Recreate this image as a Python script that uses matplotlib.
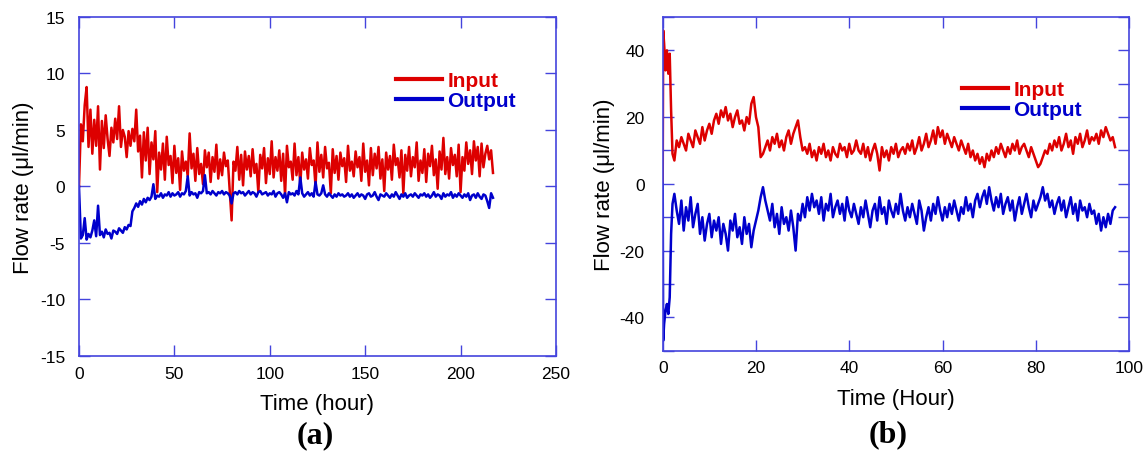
import matplotlib
matplotlib.use("Agg")
import matplotlib.pyplot as plt
import numpy as np

plt.rcParams['font.family'] = ['Liberation Sans', 'DejaVu Sans']
plt.rcParams['axes.unicode_minus'] = False

# ---- panel (a): hourly readings, 0..217 h ----
time_a = np.arange(0, 218)
input_a = [
    0.0, 5.5, 4.0, 7.2, 8.8, 3.5, 6.8, 2.9, 5.9, 3.6, 7.1, 1.5, 5.8, 3.4, 6.3, 4.2, 2.7, 5.2, 3.9, 6.0,
    4.2, 7.1, 3.5, 5.0, 4.4, 2.6, 4.9, 3.6, 5.1, 4.0, 6.8, 3.1, 4.5, 0.8, 4.8, 2.3, 5.2, 1.1, 3.9, 2.4,
    4.9, -0.5, 3.0, 1.5, 3.8, 0.6, 4.4, 1.9, 2.7, 0.3, 3.6, 1.2, 2.5, -0.3, 3.1, 1.4, 2.2, 0.9, 4.7, 1.6,
    2.9, 0.5, 3.4, 1.1, 2.0, 0.2, 3.2, 1.7, 3.0, 0.4, 2.6, 1.3, 3.7, 0.7, 2.4, 1.0, 3.0, 1.8, 2.3, -0.3,
    -3.0, 2.2, 1.4, 3.5, 0.6, 2.8, 0.1, 3.1, 1.5, 2.7, 0.9, 3.3, 1.2, 2.0, -0.5, 2.8, 1.6, 3.4, 0.3, 2.5,
    1.1, 4.0, 0.8, 2.6, 1.4, 3.2, 0.5, 2.9, -0.8, 3.6, 1.7, 2.2, 0.6, 3.8, 1.0, 2.6, 0.2, 3.0, 1.5, 2.4,
    0.7, 3.4, 1.9, 2.3, 0.0, 3.9, 1.3, 2.8, 0.8, 3.5, 1.6, 2.1, -0.6, 3.3, 1.2, 2.7, 0.6, 3.0, 1.8, 2.5,
    0.4, 3.6, 1.4, 2.2, 0.9, 3.1, 1.7, 2.6, 0.5, 3.8, 1.3, 2.3, 0.1, 3.4, 1.0, 2.9, 1.6, 3.5, 0.7, 2.4,
    -0.4, 3.0, 1.5, 2.7, 0.6, 3.7, 1.9, 2.5, 0.8, 3.2, -0.6, 2.8, 1.4, 3.5, 0.9, 2.6, 1.7, 3.9, 0.5, 2.3,
    1.2, 3.3, 0.4, 2.9, 1.8, 3.6, 1.0, 2.4, -0.2, 3.1, 1.5, 4.3, 1.1, 2.6, 0.7, 3.4, 1.9, 2.8, 0.9, 3.7,
    -0.5, 2.6, 1.4, 3.9, 2.0, 3.2, 1.1, 4.0, 2.3, 3.5, 0.9, 3.8, 1.7, 2.9, 3.6, 2.4, 3.2, 1.2,
]
output_a = [
    0.0, -4.6, -4.3, -2.8, -4.7, -4.2, -4.5, -3.9, -3.0, -4.4, -1.7, -4.3, -4.0, -4.5, -3.8, -4.2, -4.1, -4.6, -3.9, -4.0,
    -4.2, -3.7, -3.9, -4.1, -3.6, -3.8, -3.4, -3.5, -2.2, -1.9, -1.5, -1.8, -1.3, -1.6, -1.1, -1.4, -1.0, -1.2, -0.9, 0.2,
    -1.1, -0.8, -0.9, -0.6, -1.0, -0.7, -0.8, -0.5, -0.9, -0.6, -0.8, -0.7, -0.5, -0.9, -0.6, -0.7, -0.4, 0.9, -0.8, -0.5,
    -0.7, -0.6, -1.0, -0.5, -0.6, -0.4, 1.0, -0.6, -0.5, -0.7, -0.4, -0.6, -0.8, -0.5, -0.6, -0.4, -0.7, -0.5, -0.6, -0.8,
    -1.5, -0.6, -0.5, -0.7, -0.4, -0.6, -0.5, -0.8, -0.6, -0.4, -0.7, -0.5, -0.6, -0.9, -0.5, -0.4, -0.7, -0.6, -0.5, -0.8,
    -0.6, -0.7, -0.4, -0.9, -0.6, -0.5, -0.7, -1.0, -0.6, -1.4, -0.5, -0.7, -0.6, -0.8, -0.4, -0.7, 0.8, -0.6, -0.9, -0.7,
    -0.5, -0.8, -0.6, -0.9, 0.4, -0.7, -0.8, -0.6, 0.1, -0.7, -0.9, -0.6, -0.8, -1.0, -0.7, -0.9, -0.6, -0.8, -0.7, -0.9,
    -0.8, -0.6, -0.9, -0.7, -1.0, -0.8, -0.6, -0.9, -0.7, -0.8, -1.1, -0.7, -0.6, -0.9, -0.8, -0.5, -0.9, -1.2, -0.7, -0.8,
    -0.9, -0.6, -0.8, -1.0, -0.7, -0.9, -0.5, -0.8, -1.1, -0.7, -0.9, -0.6, -1.0, -0.8, -0.7, -0.9, -0.6, -0.8, -1.0, -0.7,
    -0.8, -0.6, -0.9, -0.7, -1.0, -0.8, -0.5, -0.9, -0.7, -0.8, -1.1, -0.6, -0.9, -0.7, -0.8, -0.5, -1.0, -0.7, -0.9, -0.6,
    -0.8, -1.0, -0.7, -0.9, -0.6, -1.2, -0.8, -0.7, -1.0, -0.6, -0.9, -1.1, -0.7, -0.8, -1.3, -1.9, -0.6, -1.0,
]

# ---- panel (b): fine start-up samples, then half-hourly to 97 h ----
time_b = np.concatenate([[0, 0.1, 0.3, 0.6, 0.9, 1.2, 1.5, 1.8, 2.1], np.arange(2.5, 97.01, 0.5)])
input_b = [
    0, 46, 42, 34, 40, 33, 39, 22, 9,
    7, 13, 11, 14, 12, 10, 15, 13, 11, 16, 14, 12, 17, 13, 16, 18, 15, 19, 21, 18,
    22, 20, 23, 19, 21, 17, 20, 22, 18, 19, 16, 20, 18, 24, 26, 20, 17, 8, 9, 11,
    13, 10, 14, 12, 15, 11, 13, 10, 14, 16, 12, 15, 17, 19, 14, 10, 11, 9, 12, 8,
    10, 7, 11, 9, 12, 8, 10, 7, 11, 9, 8, 12, 10, 11, 8, 12, 9, 10, 13, 10,
    9, 12, 8, 11, 7, 10, 12, 9, 4, 11, 8, 10, 7, 11, 9, 12, 8, 10, 11, 9,
    12, 10, 13, 9, 11, 14, 10, 12, 15, 11, 13, 16, 12, 17, 14, 16, 12, 15, 13, 11,
    14, 12, 10, 13, 11, 9, 12, 8, 10, 7, 9, 6, 8, 5, 9, 7, 10, 8, 11, 9,
    12, 10, 8, 11, 9, 12, 10, 13, 9, 11, 12, 10, 8, 11, 9, 7, 5, 6, 8, 10,
    9, 12, 10, 13, 11, 14, 10, 12, 15, 11, 13, 9, 14, 12, 15, 11, 13, 16, 12, 14,
    13, 15, 12, 16, 14, 17, 15, 13, 14, 11,
]
output_b = [
    0, -47, -42, -38, -36, -39, -34, -15, -6,
    -3, -8, -12, -5, -14, -7, -11, -4, -13, -9, -6, -15, -10, -17, -12, -9, -16, -11, -14, -10,
    -18, -12, -15, -20, -11, -14, -9, -16, -13, -18, -10, -15, -12, -19, -14, -11, -8, -4, -1, -5,
    -8, -11, -6, -13, -9, -15, -7, -12, -10, -14, -8, -13, -20, -9, -11, -6, -10, -4, -8, -3,
    -7, -5, -9, -4, -11, -6, -8, -3, -10, -7, -5, -9, -6, -11, -4, -8, -10, -6, -9, -12,
    -7, -10, -5, -9, -13, -8, -6, -11, -4, -9, -7, -12, -5, -8, -10, -6, -9, -3, -8, -11,
    -7, -10, -6, -9, -12, -5, -8, -14, -10, -7, -11, -6, -9, -4, -8, -11, -7, -10, -6, -9,
    -5, -8, -11, -7, -9, -4, -8, -6, -10, -5, -3, -7, -4, -2, -6, -1, -5, -8, -4, -7,
    -3, -9, -6, -4, -8, -5, -11, -7, -4, -9, -6, -3, -7, -10, -5, -8, -6, -4, -1, -5,
    -3, -7, -5, -9, -6, -4, -8, -5, -10, -7, -4, -9, -6, -11, -5, -8, -7, -10, -6, -9,
    -8, -12, -9, -14, -10, -13, -9, -12, -8, -7,
]

RED = "#dd0000"
BLUE = "#0000cc"
FRAME = "#4444dd"

fig = plt.figure(figsize=(11.43, 4.52), dpi=100)
ax1 = fig.add_axes([0.0691, 0.2102, 0.4173, 0.750])
ax2 = fig.add_axes([0.5798, 0.2219, 0.4080, 0.7383])


def style(ax):
    for s in ax.spines.values():
        s.set_color(FRAME)
        s.set_linewidth(1.2)
    ax.tick_params(direction='in', length=8, width=1, color=FRAME,
                   top=True, right=True, labelsize=12.5, labelcolor='black')
    ax.tick_params(axis='x', pad=7)
    ax.tick_params(axis='y', pad=10)


ax1.plot(time_a, input_a, color=RED, lw=1.8, label='Input')
ax1.plot(time_a, output_a, color=BLUE, lw=1.8, label='Output')
ax1.set_xlim(0, 250)
ax1.set_ylim(-15, 15)
ax1.set_xticks([0, 50, 100, 150, 200, 250])
ax1.set_yticks([-15, -10, -5, 0, 5, 10, 15])
ax1.set_xlabel('Time (hour)', fontsize=16, labelpad=9)
ax1.set_ylabel('Flow rate (μl/min)', fontsize=16, labelpad=4)
style(ax1)

ax2.plot(time_b, input_b, color=RED, lw=1.8, label='Input')
ax2.plot(time_b, output_b, color=BLUE, lw=1.8, label='Output')
ax2.set_xlim(0, 100)
ax2.set_ylim(-50, 50)
ax2.set_xticks([0, 20, 40, 60, 80, 100])
ax2.set_yticks(range(-50, 51, 10))
ax2.set_yticklabels(['' if v % 20 else str(v) for v in range(-50, 51, 10)])
ax2.set_xlabel('Time (Hour)', fontsize=16, labelpad=9)
ax2.set_ylabel('Flow rate (μl/min)', fontsize=16, labelpad=3)
style(ax2)
ax2.tick_params(axis='y', pad=13)

for ax, anchor in [(ax1, (0.665, 0.84)), (ax2, (0.642, 0.81))]:
    leg = ax.legend(loc='upper left', bbox_to_anchor=anchor, frameon=False,
                    handlelength=2.2, handletextpad=0.25, labelspacing=0.04,
                    borderpad=0, borderaxespad=0,
                    prop={'weight': 'bold', 'size': 15})
    for line in leg.get_lines():
        line.set_linewidth(3)
    for txt, c in zip(leg.get_texts(), [RED, BLUE]):
        txt.set_color(c)

fig.text(0.2756, 0.035, '(a)', fontsize=23, fontweight='bold', family='Liberation Serif',
         ha='center', va='center')
fig.text(0.777, 0.038, '(b)', fontsize=23, fontweight='bold', family='Liberation Serif',
         ha='center', va='center')

fig.savefig('out.png', dpi=100)
